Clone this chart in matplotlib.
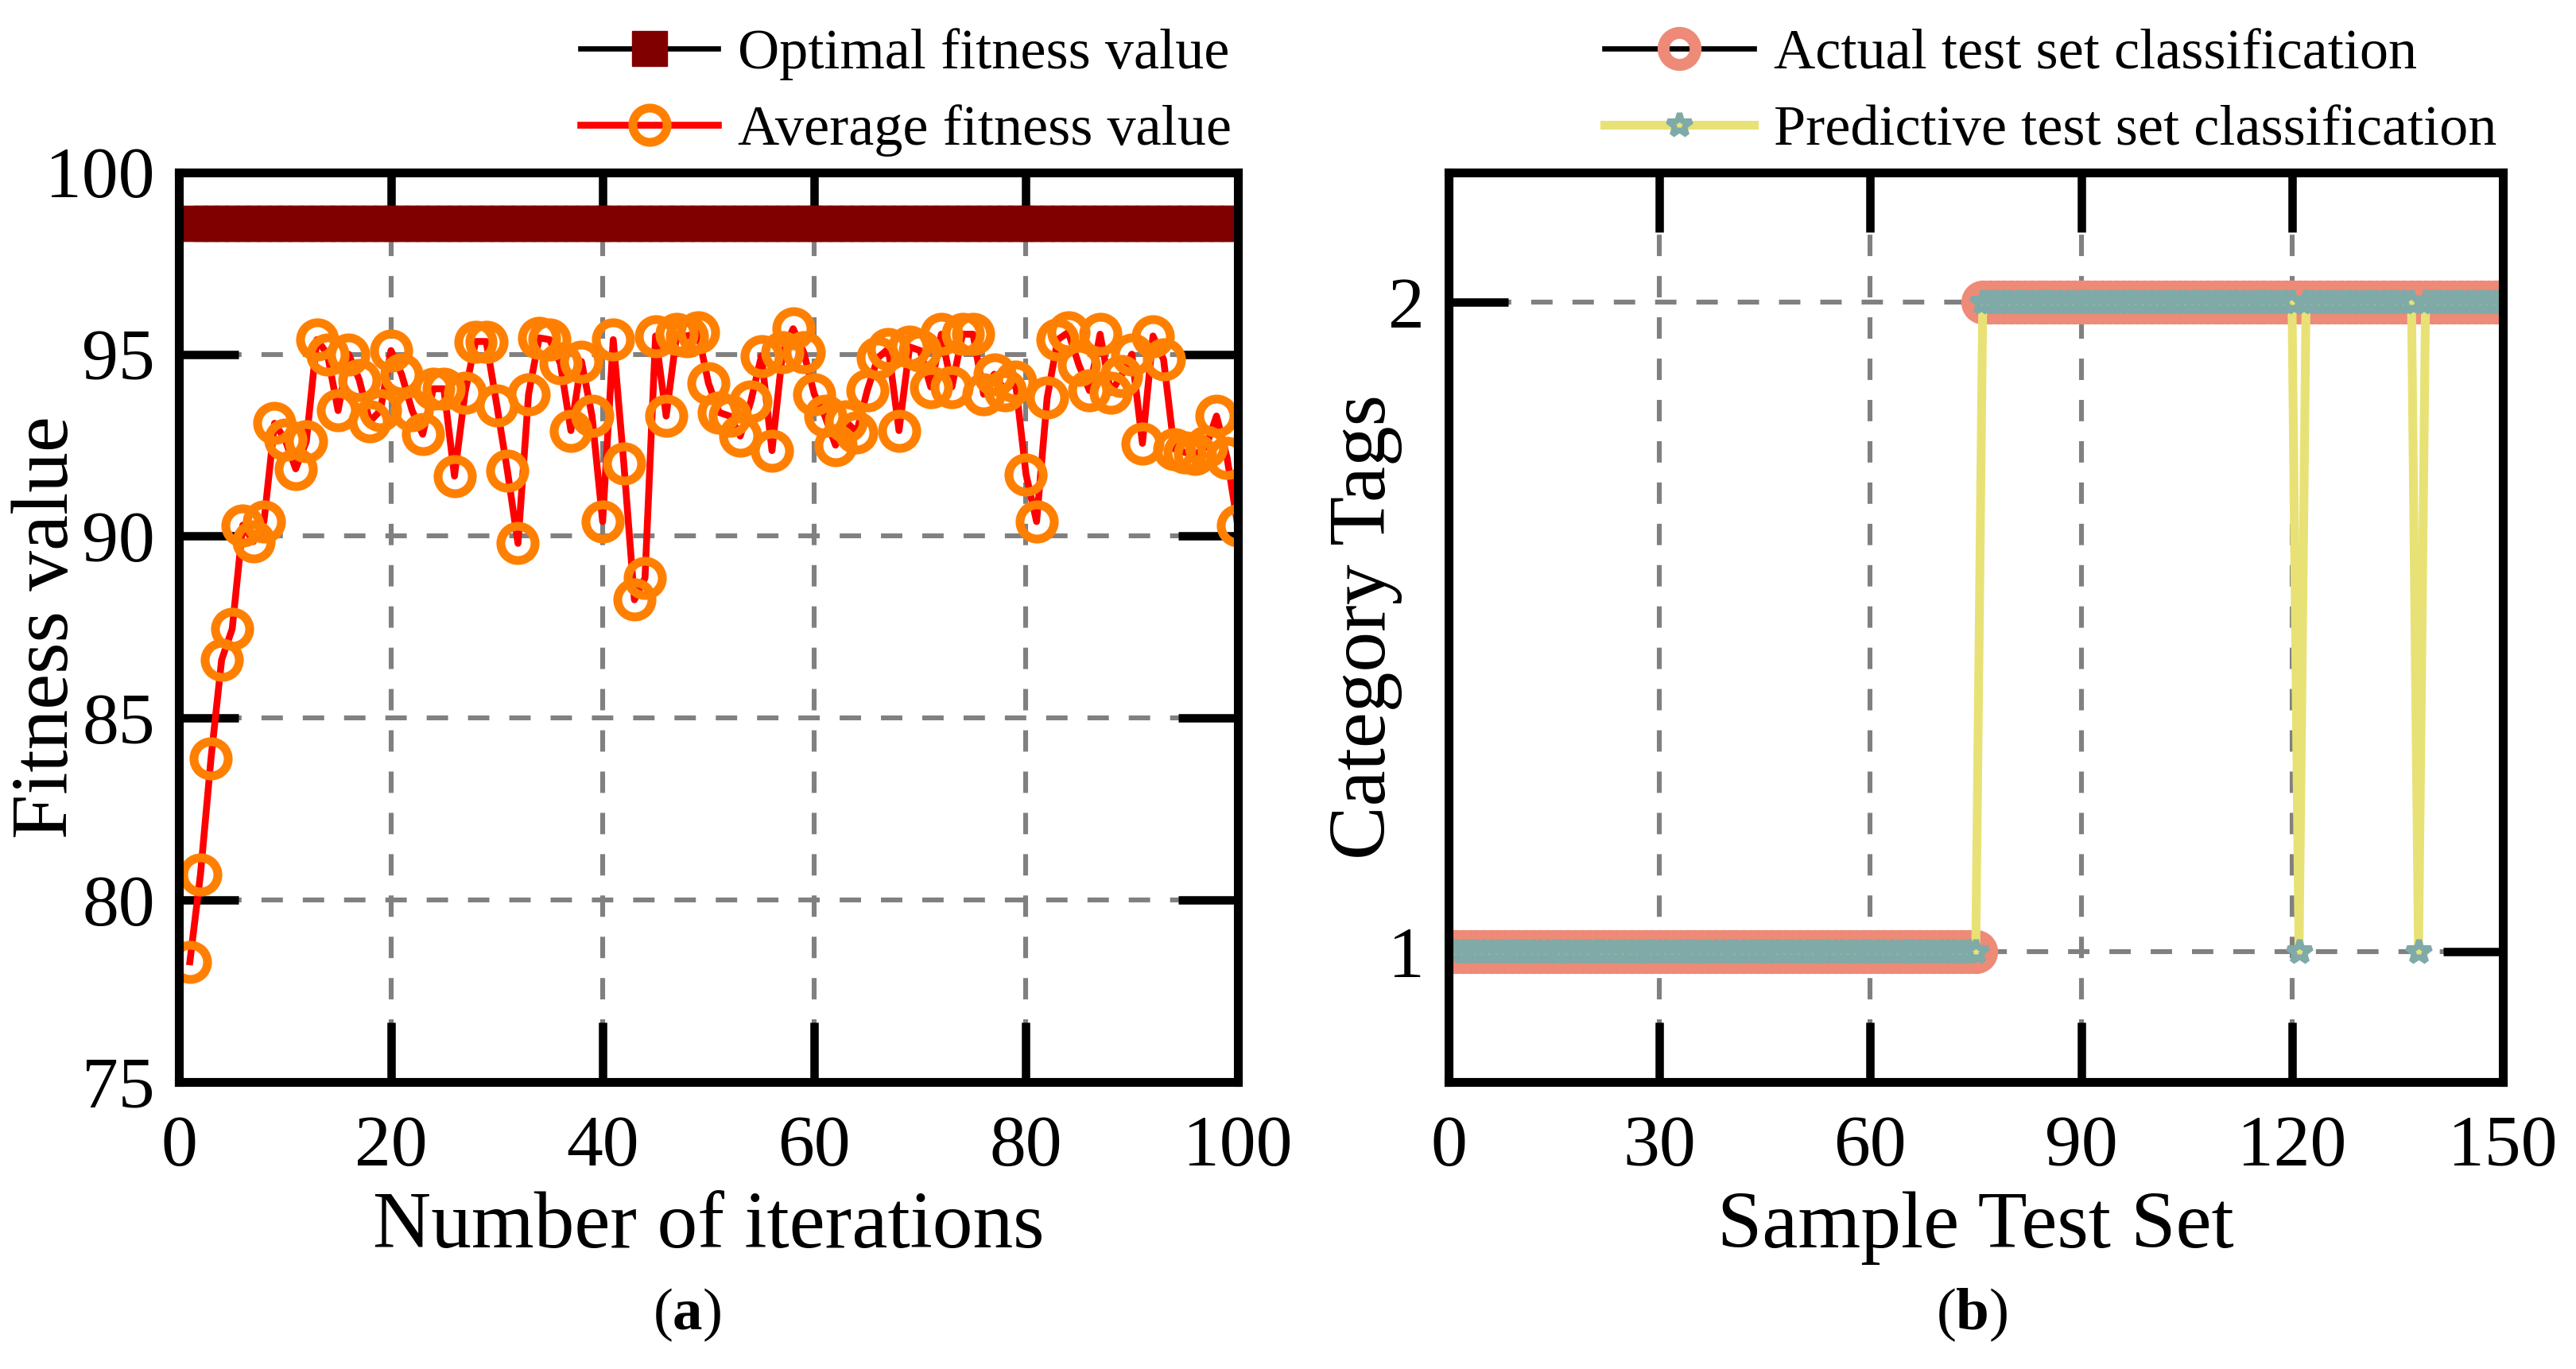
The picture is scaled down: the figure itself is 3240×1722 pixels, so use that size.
import matplotlib
matplotlib.use('Agg')
import matplotlib.pyplot as plt

plt.rcParams['font.family'] = ['Liberation Serif', 'DejaVu Serif']
plt.rcParams['mathtext.fontset'] = 'custom'
plt.rcParams['mathtext.rm'] = 'Liberation Serif'
plt.rcParams['mathtext.bf'] = 'Liberation Serif:bold'

# (a) fitness curves
iterations = list(range(1, 101))
avg_fitness = [78.3, 80.7, 83.9, 86.6, 87.45, 90.3, 89.85, 90.4, 93.1, 92.65,
               91.85, 92.6, 95.4, 95.0, 93.45, 95.0, 94.3, 93.15, 93.45, 95.1,
               94.45, 93.45, 92.8, 94.05, 94.05, 91.65, 93.95, 95.35, 95.35, 93.6,
               91.8, 89.8, 93.9, 95.45, 95.4, 94.75, 92.9, 94.8, 93.3, 90.4,
               95.4, 92.0, 88.25, 88.85, 95.5, 93.3, 95.55, 95.5, 95.6, 94.2,
               93.4, 93.3, 92.75, 93.7, 94.95, 92.35, 95.05, 95.7, 95.05, 93.9,
               93.3, 92.5, 93.15, 92.85, 94.0, 94.9, 95.15, 92.9, 95.2, 95.1,
               94.1, 95.55, 94.1, 95.55, 95.55, 93.9, 94.45, 94.0, 94.25, 91.7,
               90.4, 93.8, 95.4, 95.6, 94.7, 94.0, 95.55, 93.95, 94.4, 95.0,
               92.55, 95.5, 94.85, 92.4, 92.3, 92.25, 92.45, 93.3, 92.15, 90.3]
best_fitness = [98.6] * len(iterations)
xticks_a = [0, 20, 40, 60, 80, 100]
yticks_a = [75, 80, 85, 90, 95, 100]

# (b) classification result
samples = list(range(1, 151))
actual_class = [1] * 75 + [2] * 75
predicted_class = [1] * 75 + [2] * 45 + [1] + [2] * 16 + [1] + [2] * 12
xticks_b = [0, 30, 60, 90, 120, 150]
yticks_b = [1, 2]

W, H = 3241, 1722
fig = plt.figure(figsize=(W / 200, H / 200), dpi=200)
bottom = 1 - 1360.8 / H
height = (1360.8 - 216.7) / H
ax1 = fig.add_axes([225.5 / W, bottom, (1556.7 - 225.5) / W, height])
ax2 = fig.add_axes([1822 / W, bottom, 1326 / W, height])

grid_kw = dict(color='#808080', lw=2.2, ls=(0, (4.4, 4.1)))

def style(ax):
    for s in ax.spines.values():
        s.set_linewidth(4)
    ax.tick_params(direction='in', length=27, width=3.8, top=True, right=True,
                   labelsize=33, color='k')
    ax.tick_params(axis='x', pad=15)
    ax.tick_params(axis='y', pad=11)
    ax.grid(True, **grid_kw)

leg_kw = dict(loc='lower right', bbox_to_anchor=(1.0, 1.011), frameon=False,
              fontsize=26, handletextpad=0.35, borderaxespad=0.0,
              borderpad=0.1, labelspacing=0.42)

ax1.plot(iterations, best_fitness, color='k', lw=2.4, marker='s', ms=16,
         mfc='#800000', mec='#800000', mew=0.5, label='Optimal fitness value')
ax1.plot(iterations, avg_fitness, color='#ff0000', lw=3.1, marker='o', ms=15.5,
         mfc='none', mec='#ff8000', mew=4, label='Average fitness value')
ax1.set_xlim(0, 100)
ax1.set_ylim(75, 100)
ax1.set_xticks(xticks_a)
ax1.set_yticks(yticks_a)
style(ax1)
ax1.set_xlabel('Number of iterations', fontsize=36.5)
ax1.set_ylabel('Fitness value', fontsize=36.5)
ax1.xaxis.set_label_coords(0.5, -0.12)
ax1.yaxis.set_label_coords(-0.089, 0.5)
ax1.legend(handlelength=2.4, **leg_kw)

ax2.plot(samples, actual_class, color='k', lw=2.4, marker='o', ms=14.5,
         mfc='none', mec='#ee8a78', mew=5.4, label='Actual test set classification')
ax2.plot(samples, predicted_class, color='#e8e276', lw=4, marker='*', ms=11,
         mfc='#e8e276', mec='#7faaa8', mew=2.6, label='Predictive test set classification')
ax2.set_xlim(0, 150)
ax2.set_ylim(0.8, 2.2)
ax2.set_xticks(xticks_b)
ax2.set_yticks(yticks_b)
style(ax2)
ax2.set_xlabel('Sample Test Set', fontsize=36.5)
ax2.set_ylabel('Category Tags', fontsize=36.5)
ax2.xaxis.set_label_coords(0.5, -0.12)
ax2.yaxis.set_label_coords(-0.044, 0.5)
ax2.legend(handlelength=2.6, **leg_kw)

fig.text(864 / W, 1 - 1654 / H, r'($\mathbf{a}$)', fontsize=27, ha='center', va='center')
fig.text(2480 / W, 1 - 1654 / H, r'($\mathbf{b}$)', fontsize=27, ha='center', va='center')

fig.savefig('out.png', dpi=200)
